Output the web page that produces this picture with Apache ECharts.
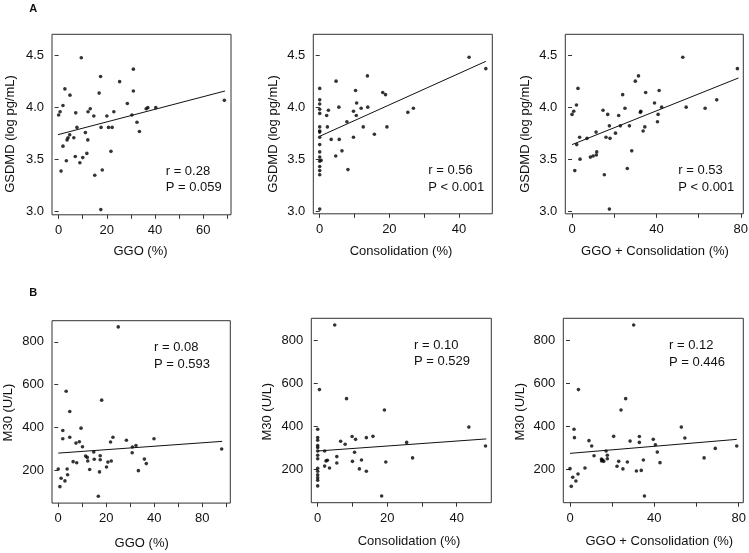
<!DOCTYPE html>
<html>
<head>
<meta charset="utf-8">
<script src="https://cdn.jsdelivr.net/npm/echarts@6/dist/echarts.min.js"></script>
<style>html,body{margin:0;padding:0;background:#fff}#c{width:749px;height:553px}</style>
</head>
<body>
<div id="c"></div>
<script>
// ---- Panel A1: GGO vs GSDMD ----
const a1X = [0,0.6,1.8,2.6,4.7,1.0,1.8,3.2,3.5,3.9,4.6,6.3,7.1,6.9,7.6,8.8,9.4,10.0,11.1,11.7,12.1,12.2,13.1,14.6,15.0,16.8,17.4,17.6,18.1,17.5,20.0,20.7,22.2,21.7,22.9,25.3,28.5,30.4,31.0,31.0,32.5,33.5,36.3,37.0,40.3,68.75];
const a1Y = [3.93,3.96,4.02,4.18,4.12,3.39,3.63,3.49,3.69,3.71,3.74,3.71,3.95,3.53,3.81,3.47,4.48,3.52,3.76,3.56,3.69,3.96,3.99,3.92,3.35,4.14,4.30,3.81,3.40,3.02,3.92,3.81,3.81,3.58,3.96,4.25,4.04,3.93,4.16,4.37,3.86,3.77,3.99,4.00,4.00,4.07];
const a1Fit = [[-0.3,3.74],[69.0,4.16]];
// ---- Panel A2: Consolidation vs GSDMD ----
const a2X = [0,0,0,0,0,0,0,0,0,0,0,0,0,0,0,0,0,0.4,2.0,2.5,2.2,3.3,4.7,4.6,5.5,5.6,6.4,7.8,8.1,9.7,9.7,10.3,10.6,10.5,11.9,12.5,13.7,13.8,15.7,18.1,18.9,19.3,25.3,26.9,42.9,47.7];
const a2Y = [4.18,4.07,4.03,3.98,3.94,3.81,3.77,3.76,3.71,3.64,3.57,3.52,3.48,3.43,3.39,3.35,3.02,3.49,3.92,3.97,3.81,3.69,4.25,3.53,4.00,3.69,3.58,3.86,3.40,3.71,3.96,4.16,4.04,3.92,3.99,3.81,4.30,4.00,3.74,4.14,4.12,3.81,3.95,3.99,4.48,4.37];
const a2Fit = [[0,3.72],[47.7,4.44]];
// ---- Panel A3: GGO + Consolidation vs GSDMD ----
const a3X = [0,0.8,2.1,2.8,1.3,2.2,3.8,3.6,7.1,8.7,10.0,11.4,11.7,11.5,14.7,15.3,16.1,16.9,17.7,18.0,17.7,20.6,22.1,22.9,24.0,25.1,26.2,27.2,28.3,30.0,31.5,32.6,32.4,33.7,34.5,34.9,39.1,40.5,40.8,41.3,42.5,52.5,54.1,63.1,68.6,78.4];
const a3Y = [3.93,3.96,4.02,4.18,3.39,3.64,3.50,3.71,3.70,3.52,3.53,3.76,3.57,3.54,3.97,3.35,3.71,3.93,3.82,3.70,3.02,3.75,3.92,3.82,4.12,3.99,3.41,3.82,3.58,4.25,4.30,3.96,3.95,3.77,3.81,4.14,4.04,3.86,3.93,4.16,4.00,4.48,4.00,3.99,4.07,4.37];
const a3Fit = [[0,3.64],[78.9,4.28]];
// ---- Panel B1: GGO vs M30 ----
const b1X = [0,0.7,1.2,1.9,1.9,2.8,3.3,3.7,3.9,4.8,4.8,6.2,7.4,7.7,8.8,9.5,10.1,11.4,12.1,12.3,13.1,14.8,15.0,16.7,17.5,17.5,17.2,18.1,20.1,20.7,21.8,22.1,22.8,25.0,28.4,30.8,30.9,32.4,33.4,35.9,36.7,39.9,68.1];
const b1Y = [205,122,161,385,346,149,569,205,178,474,353,239,326,234,332,396,309,265,259,242,202,284,250,77,267,248,191,527,214,237,331,242,353,870,339,281,308,315,197,251,230,346,298];
const b1Fit = [[0,279],[68.3,334]];
// ---- Panel B2: Consolidation vs M30 ----
const b2X = [0,0,0,0,0,0,0,0,0,0,0,0,0,0,0.5,2.0,2.0,2.4,2.8,3.4,5.5,5.5,4.9,6.6,7.9,8.3,9.9,10.0,10.6,10.9,12.0,12.6,14.0,14.0,15.9,18.4,19.2,19.6,25.6,27.3,43.5,48.3];
const b2Y = [386,348,335,310,301,285,265,249,205,191,174,161,149,123,570,285,215,239,242,206,259,229,870,330,316,528,352,237,279,339,202,243,347,191,353,76,475,234,325,253,396,308];
const b2Fit = [[0,285],[48.5,341]];
// ---- Panel B3: GGO + Consolidation vs M30 ----
const b3X = [0,0.6,1.3,1.9,2.1,2.8,4.0,3.8,7.1,9.0,10.3,11.4,14.9,15.0,15.5,16.0,17.1,17.7,17.7,20.7,22.3,23.1,24.2,25.1,26.4,27.2,28.5,30.2,31.5,32.9,32.9,33.8,34.8,35.3,39.5,40.5,41.4,42.7,52.8,54.5,63.6,68.9,79.1];
const b3Y = [203,121,163,386,347,146,570,178,206,333,308,263,248,239,243,237,285,265,249,353,214,237,475,202,528,234,331,870,192,352,325,195,243,76,339,314,280,231,396,345,253,297,308];
const b3Fit = [[0,274],[79.1,339]];

// tick values / labels
const tickYA = [3.0,3.5,4.0,4.5];
const tickLabYA = ['3.0','3.5','4.0','4.5'];
const tickYB = [200,400,600,800];
const tickLabYB = ['200','400','600','800'];
const tickX70 = [0,10,20,30,40,50,60,70];
const labX70 = [0,20,40,60];
const labTxtGGO_A = ['0','20','40','60'];
const labTxtGGO_B = ['0','20','40','80'];
const tickX50 = [0,10,20,30,40];
const labX50 = [0,20,40];
const labTxt50 = ['0','20','40'];
const tickX80 = [0,20,40,60,80];
const labX80 = [0,40,80];
const labTxt80 = ['0','40','80'];

const xTitles = ['GGO (%)','Consolidation (%)','GGO + Consolidation (%)'];
const yTitleA = 'GSDMD (log pg/mL)';
const yTitleB = 'M30 (U/L)';
const statR = ['r = 0.28','r = 0.56','r = 0.53','r = 0.08','r = 0.10','r = 0.12'];
const statP = ['P = 0.059','P < 0.001','P < 0.001','P = 0.593','P = 0.529','P = 0.446'];

const FONT = '"Liberation Sans", Arial, Helvetica, sans-serif';

const panels = [
  {x:a1X,y:a1Y,fit:a1Fit,g:[52,34.3,179,180.5],xr:[-2.75,71.5],yr:[2.97,4.705],xt:tickX70,xl:labX70,xs:labTxtGGO_A,yt:tickYA,ys:tickLabYA},
  {x:a2X,y:a2Y,fit:a2Fit,g:[313.3,34.3,179,179.5],xr:[-1.84,49.56],yr:[2.975,4.70],xt:tickX50,xl:labX50,xs:labTxt50,yt:tickYA,ys:tickLabYA},
  {x:a3X,y:a3Y,fit:a3Fit,g:[565.3,34.3,178,179.5],xr:[-3.2,81.2],yr:[2.975,4.70],xt:tickX80,xl:labX80,xs:labTxt80,yt:tickYA,ys:tickLabYA},
  {x:b1X,y:b1Y,fit:b1Fit,g:[52,320.7,178.3,182.4],xr:[-2.6,71.7],yr:[45,899],xt:tickX70,xl:labX70,xs:labTxtGGO_B,yt:tickYB,ys:tickLabYB},
  {x:b2X,y:b2Y,fit:b2Fit,g:[311.3,318.3,180,184.4],xr:[-1.84,49.96],yr:[45,901],xt:tickX50,xl:labX50,xs:labTxt50,yt:tickYB,ys:tickLabYB},
  {x:b3X,y:b3Y,fit:b3Fit,g:[563.3,318.3,180,184.4],xr:[-3.18,82.2],yr:[45,901],xt:tickX80,xl:labX80,xs:labTxt80,yt:tickYB,ys:tickLabYB}
];

const grids=[], xAxes=[], yAxes=[], series=[];
panels.forEach((p,i)=>{
  grids.push({left:p.g[0],top:p.g[1],width:p.g[2],height:p.g[3],show:true,borderColor:'#333',borderWidth:1,backgroundColor:'transparent',outerBoundsMode:'none',containLabel:false});
  xAxes.push({gridIndex:i,type:'value',min:p.xr[0],max:p.xr[1],
    axisLine:{show:false},splitLine:{show:false},
    axisTick:{show:true,length:4,lineStyle:{color:'#333',width:1},customValues:p.xt},
    axisLabel:{customValues:p.xl,formatter:(v)=>p.xs[p.xl.indexOf(v)],margin:9,fontSize:13,color:'#111',fontFamily:FONT,showMinLabel:true,showMaxLabel:true}});
  yAxes.push({gridIndex:i,type:'value',min:p.yr[0],max:p.yr[1],
    axisLine:{show:false},splitLine:{show:false},
    axisTick:{show:true,length:4,lineStyle:{color:'#333',width:1},customValues:p.yt},
    axisLabel:{customValues:p.yt,formatter:(v)=>p.ys[p.yt.indexOf(v)],margin:8,fontSize:13,color:'#111',fontFamily:FONT}});
  series.push({type:'scatter',xAxisIndex:i,yAxisIndex:i,symbolSize:3.6,itemStyle:{color:'#000'},
    data:p.x.map((v,k)=>[v,p.y[k]]),silent:true});
  series.push({type:'line',xAxisIndex:i,yAxisIndex:i,symbol:'none',lineStyle:{color:'#111',width:1},data:p.fit,silent:true});
});

function txt(t,x,y,opts){
  return Object.assign({type:'text',x:x,y:y,silent:true,style:Object.assign({text:t,font:'13px '+FONT,fill:'#111',align:'left',verticalAlign:'middle'},opts&&opts.style||{})},opts&&opts.el||{});
}
const graphics = [];
graphics.push(txt('A',33.3,8.7,{style:{font:'bold 11px '+FONT,align:'center'}}));
graphics.push(txt('B',33.3,293.3,{style:{font:'bold 11px '+FONT,align:'center'}}));
// x titles
[[140.5,251.7],[401,251.5],[655,251.5],[141.7,543.3],[409,541.7],[659.3,541.2]].forEach((c,i)=>{
  graphics.push(txt(xTitles[i%3],c[0],c[1],{style:{align:'center'}}));
});
// y titles
[[10,134,yTitleA],[273.3,134,yTitleA],[525,134,yTitleA],[8.5,412.5,yTitleB],[267.3,411.7,yTitleB],[520,411.7,yTitleB]].forEach(c=>{
  graphics.push(txt(c[2],c[0],c[1],{style:{align:'center'},el:{rotation:Math.PI/2}}));
});
// stats
[[165.7,171.7,187.7],[428.3,170,187.3],[678.3,170,187],[154,347.7,364.3],[414,345,361.7],[669,345.7,362.3]].forEach((c,i)=>{
  graphics.push(txt(statR[i],c[0],c[1]));
  graphics.push(txt(statP[i],c[0],c[2]));
});

const chart = echarts.init(document.getElementById('c'),null,{renderer:'canvas'});
chart.setOption({animation:false,backgroundColor:'#fff',grid:grids,xAxis:xAxes,yAxis:yAxes,series:series,graphic:graphics});
</script>
</body>
</html>
